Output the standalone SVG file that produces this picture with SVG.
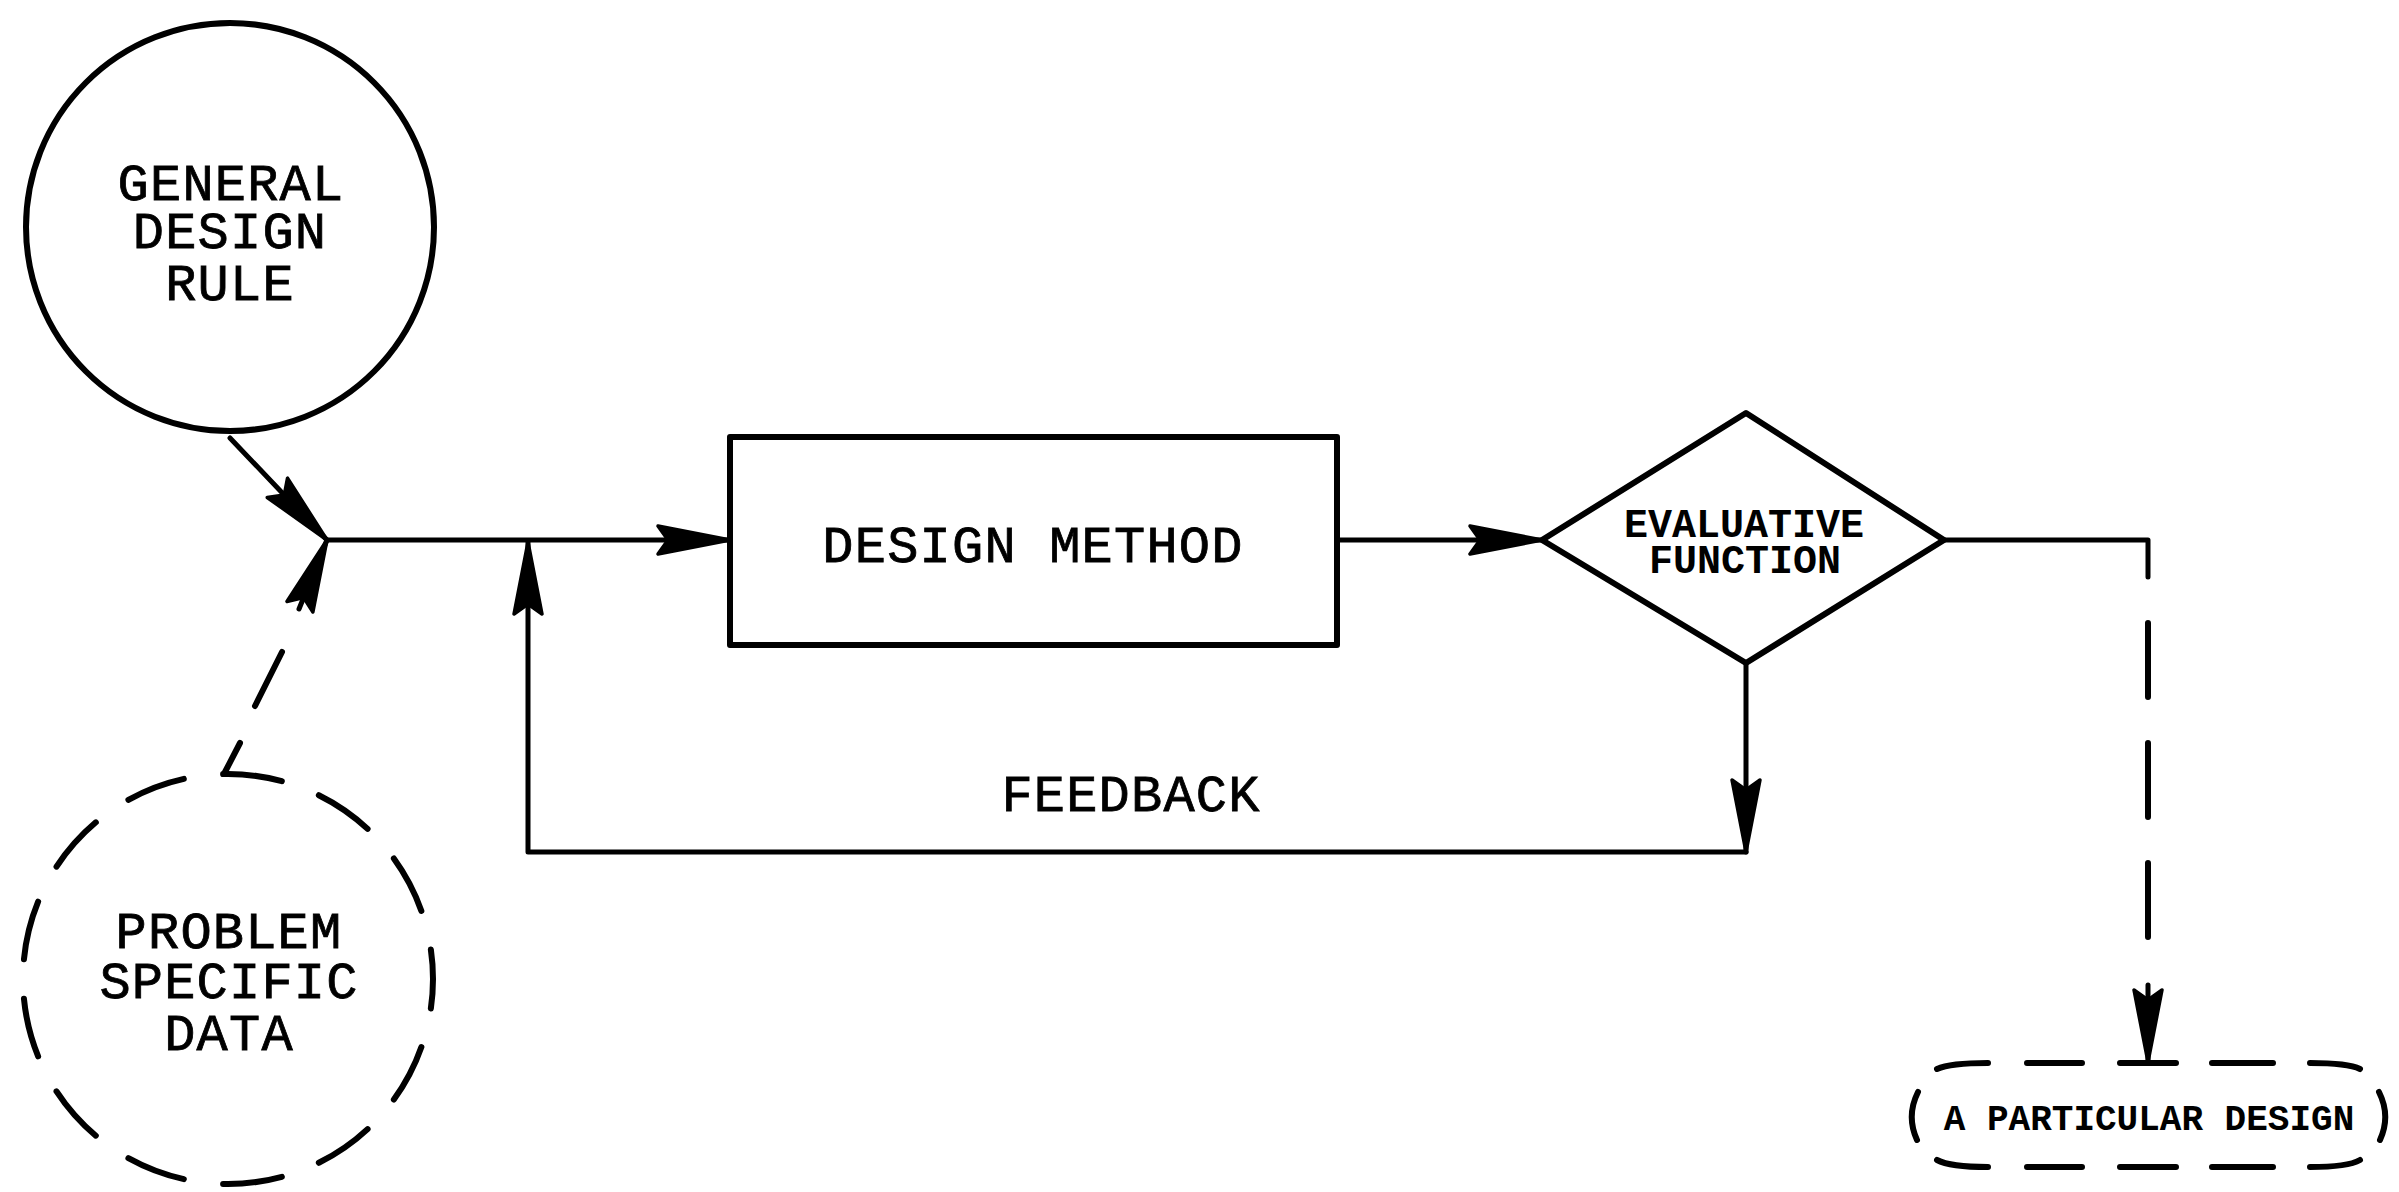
<svg xmlns="http://www.w3.org/2000/svg" width="2399" height="1192" viewBox="0 0 2399 1192">
<style>
  .shape { fill: none; stroke: #000; stroke-width: 6; stroke-linejoin: round; }
  .line { fill: none; stroke: #000; stroke-width: 5; stroke-linecap: round; stroke-linejoin: round; }
  .dash { fill: none; stroke: #000; stroke-width: 6; stroke-linecap: round; }
  .lbl { font-family: "Liberation Mono", "DejaVu Sans Mono", monospace; fill: #000; text-anchor: middle; stroke: #000; stroke-width: 0.8; }
  .big { font-size: 52px; letter-spacing: 1.2px; }
  .mid { font-size: 40px; font-weight: bold; stroke-width: 0; }
  .small { font-size: 36px; font-weight: bold; stroke-width: 0; }
</style>
<defs>
  <marker id="arr" markerUnits="userSpaceOnUse" viewBox="-80 -20 85 40" markerWidth="85" markerHeight="40" refX="0" refY="0" orient="auto">
    <path d="M0,0 L-72,-14 L-62,0 L-72,14 Z" fill="#000" stroke="#000" stroke-width="3.5" stroke-linejoin="round"/>
  </marker>
</defs>
<rect width="2399" height="1192" fill="#fff"/>

<g id="general-design-rule">
  <circle class="shape" cx="230" cy="227" r="204"/>
  <text class="lbl big"><tspan x="231" y="200">GENERAL</tspan><tspan x="230" y="248">DESIGN</tspan><tspan x="230" y="300">RULE</tspan></text>
</g>

<g id="problem-specific-data">
  <circle class="dash" cx="228" cy="979" r="205" pathLength="1300" stroke-dasharray="60 40" stroke-dashoffset="30"/>
  <text class="lbl big"><tspan x="229" y="948">PROBLEM</tspan><tspan x="229" y="998">SPECIFIC</tspan><tspan x="229" y="1050">DATA</tspan></text>
</g>

<g id="design-method">
  <rect class="shape" x="730" y="437" width="607" height="208"/>
  <text class="lbl big" x="1033" y="562">DESIGN METHOD</text>
</g>

<g id="evaluative-function">
  <polygon class="shape" points="1542,540 1746,413 1944,540 1746,663"/>
  <text class="lbl mid"><tspan x="1744" y="537">EVALUATIVE</tspan><tspan x="1745" y="573">FUNCTION</tspan></text>
</g>

<g id="a-particular-design">
  <path class="dash" d="M1937,1069 Q1950,1063 1988,1063 M2027,1063 H2082 M2120,1063 H2176 M2212,1063 H2273 M2310,1063 Q2348,1063 2360,1069"/>
  <path class="dash" d="M1937,1160 Q1950,1167 1988,1167 M2027,1167 H2082 M2120,1167 H2176 M2212,1167 H2273 M2310,1167 Q2348,1167 2360,1160"/>
  <path class="dash" d="M1918,1092 Q1906,1116 1917,1140 M2379,1092 Q2391,1116 2380,1140"/>
  <text class="lbl small" x="2149" y="1130">A PARTICULAR DESIGN</text>
</g>

<g id="connectors">
  <path class="line" d="M230,438 L327,540" marker-end="url(#arr)"/>
  <path class="dash" d="M225,772 L240,743 M255,706 L282,652"/>
  <path class="line" d="M299,609 L327,540" marker-end="url(#arr)"/>
  <path class="line" d="M327,540 H730" marker-end="url(#arr)"/>
  <path class="line" d="M1337,540 H1542" marker-end="url(#arr)"/>
  <path class="line" d="M1746,663 V852" marker-end="url(#arr)"/>
  <path class="line" d="M1746,852 H528 V542" marker-end="url(#arr)"/>
  <path class="line" d="M1944,540 H2148 V577"/>
  <path class="dash" d="M2148,623 V697 M2148,743 V817 M2148,863 V937"/>
  <path class="line" d="M2148,985 V1062" marker-end="url(#arr)"/>
  <text class="lbl big" x="1131" y="811">FEEDBACK</text>
</g>
</svg>
